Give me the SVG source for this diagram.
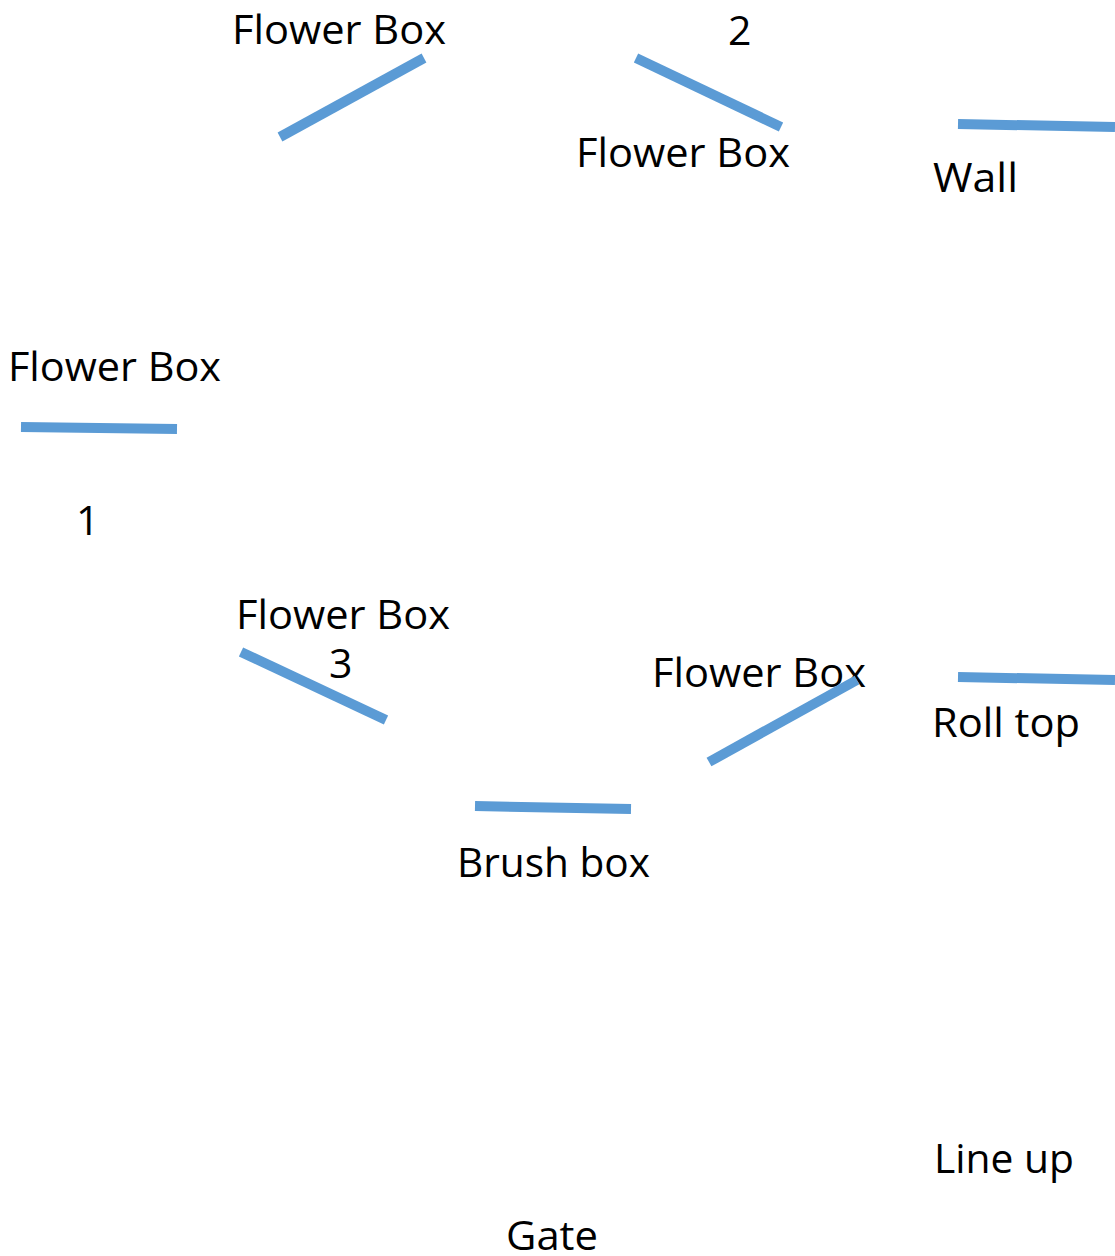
<svg xmlns="http://www.w3.org/2000/svg" width="1115" height="1256" viewBox="0 0 1115 1256">
<style>
.t{font-family:"Open Sans","Liberation Sans",sans-serif;font-size:41px;fill:#000}
.b{stroke:#5B9BD5;stroke-width:10;fill:none}
</style>
<rect width="1115" height="1256" fill="#fff"/>
<g id="flowerbox-top">
<text class="t" x="232" y="44" textLength="214" lengthAdjust="spacingAndGlyphs">Flower Box</text>
<line class="b" x1="280" y1="137" x2="424" y2="58"/>
</g>
<g id="label-2"><text class="t" x="728" y="45">2</text></g>
<g id="flowerbox-2">
<line class="b" x1="636" y1="58" x2="781" y2="127"/>
<text class="t" x="576" y="167" textLength="214" lengthAdjust="spacingAndGlyphs">Flower Box</text>
</g>
<g id="wall">
<line class="b" x1="958" y1="124" x2="1115" y2="127"/>
<text class="t" x="933" y="192" textLength="85" lengthAdjust="spacingAndGlyphs">Wall</text>
</g>
<g id="flowerbox-left">
<text class="t" x="8" y="381" textLength="213" lengthAdjust="spacingAndGlyphs">Flower Box</text>
<line class="b" x1="21" y1="427" x2="177" y2="429"/>
</g>
<g id="label-1"><text class="t" x="76" y="535">1</text></g>
<g id="flowerbox-3">
<text class="t" x="236" y="629" textLength="214" lengthAdjust="spacingAndGlyphs">Flower Box</text>
<line class="b" x1="241" y1="652" x2="386" y2="720"/>
</g>
<g id="label-3"><text class="t" x="329" y="678">3</text></g>
<g id="brush-box">
<line class="b" x1="475" y1="806" x2="631" y2="809"/>
<text class="t" x="457" y="877" textLength="193" lengthAdjust="spacingAndGlyphs">Brush box</text>
</g>
<g id="flowerbox-4">
<text class="t" x="652" y="687" textLength="214" lengthAdjust="spacingAndGlyphs">Flower Box</text>
<line class="b" x1="709" y1="762" x2="857" y2="680"/>
</g>
<g id="roll-top">
<line class="b" x1="958" y1="677" x2="1115" y2="680"/>
<text class="t" x="932" y="737" textLength="148" lengthAdjust="spacingAndGlyphs">Roll top</text>
</g>
<g id="line-up"><text class="t" x="934" y="1173" textLength="140" lengthAdjust="spacingAndGlyphs">Line up</text></g>
<g id="gate"><text class="t" x="506" y="1250" textLength="92" lengthAdjust="spacingAndGlyphs">Gate</text></g>
</svg>
